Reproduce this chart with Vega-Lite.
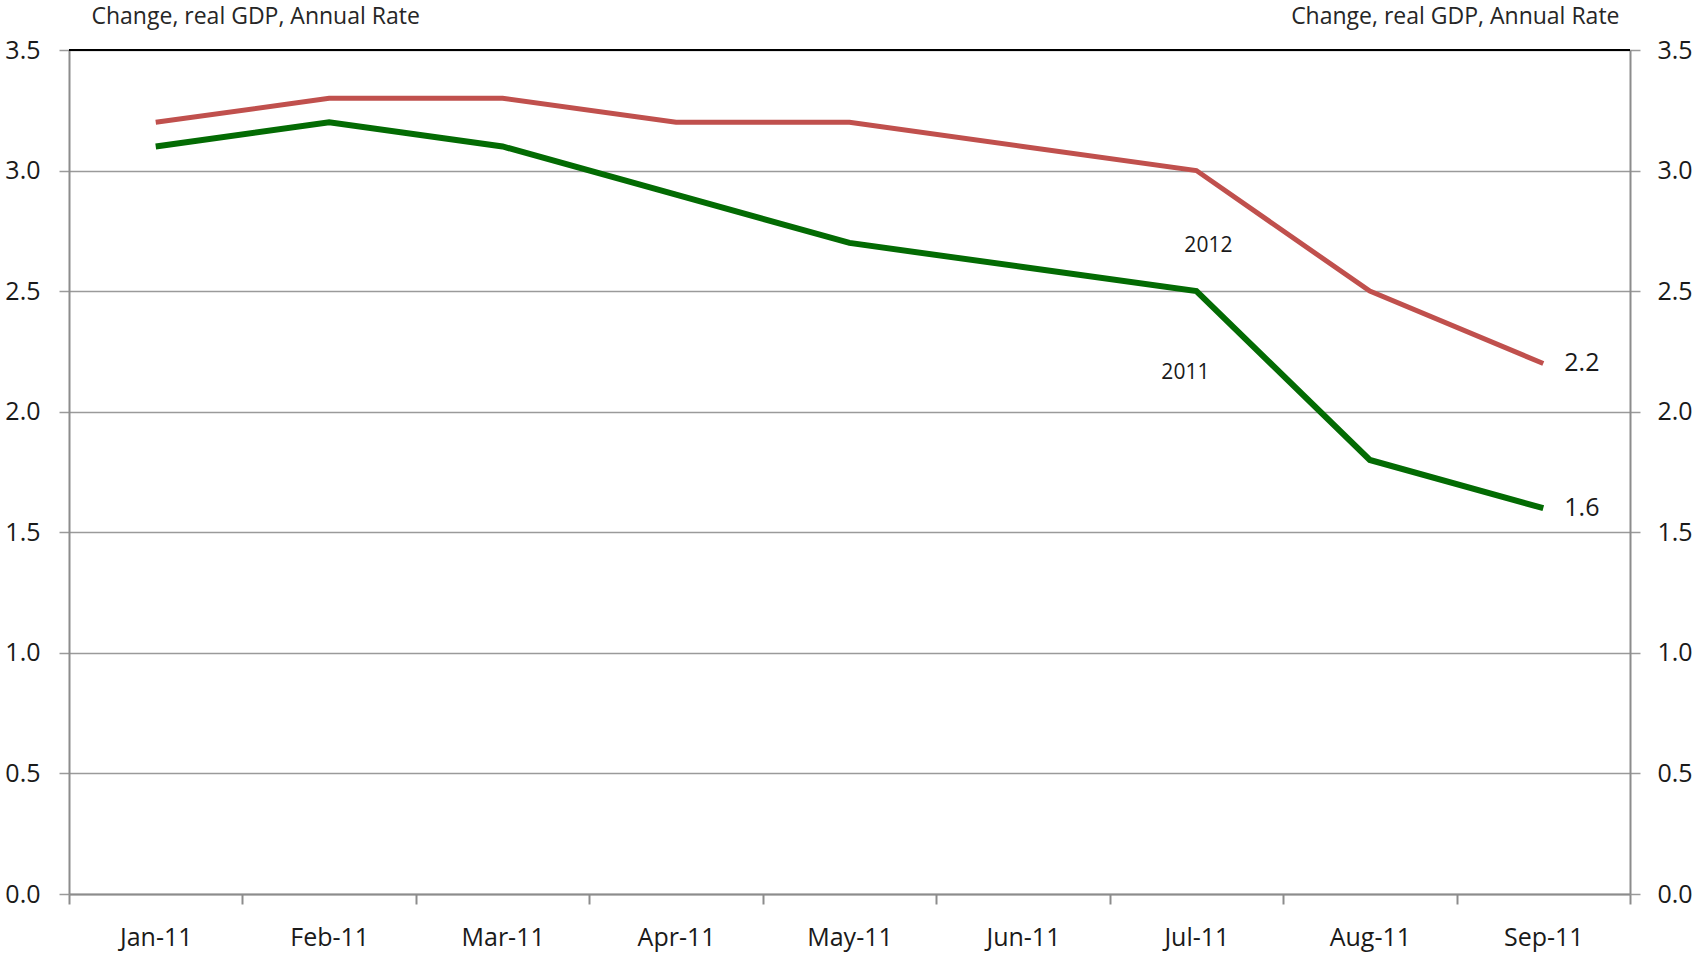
{
  "$schema": "https://vega.github.io/schema/vega-lite/v6.json",
  "width": 1561,
  "height": 844,
  "autosize": "none",
  "padding": {"left": 69, "top": 50, "right": 71, "bottom": 61},
  "background": "white",
  "config": {
    "view": {"stroke": null},
    "font": "Open Sans",
    "axisX": {
      "tickBand": "extent",
      "domainColor": "#8c8c8c",
      "domainWidth": 2,
      "tickColor": "#8c8c8c",
      "tickWidth": 2,
      "tickSize": 10,
      "labelFont": "Open Sans",
      "labelFontSize": 25,
      "labelColor": "#1a1a1a",
      "labelBaseline": "middle",
      "labelPadding": 33,
      "labelAngle": 0,
      "grid": false,
      "title": null
    }
  },
  "data": {
    "values": [
      {"month": "Jan-11", "series": "2012", "value": 3.2},
      {"month": "Feb-11", "series": "2012", "value": 3.3},
      {"month": "Mar-11", "series": "2012", "value": 3.3},
      {"month": "Apr-11", "series": "2012", "value": 3.2},
      {"month": "May-11", "series": "2012", "value": 3.2},
      {"month": "Jun-11", "series": "2012", "value": 3.1},
      {"month": "Jul-11", "series": "2012", "value": 3.0},
      {"month": "Aug-11", "series": "2012", "value": 2.5},
      {"month": "Sep-11", "series": "2012", "value": 2.2},
      {"month": "Jan-11", "series": "2011", "value": 3.1},
      {"month": "Feb-11", "series": "2011", "value": 3.2},
      {"month": "Mar-11", "series": "2011", "value": 3.1},
      {"month": "Apr-11", "series": "2011", "value": 2.9},
      {"month": "May-11", "series": "2011", "value": 2.7},
      {"month": "Jun-11", "series": "2011", "value": 2.6},
      {"month": "Jul-11", "series": "2011", "value": 2.5},
      {"month": "Aug-11", "series": "2011", "value": 1.8},
      {"month": "Sep-11", "series": "2011", "value": 1.6}
    ]
  },
  "layer": [
    {
      "mark": {"type": "rule", "color": "#000000", "strokeWidth": 2},
      "encoding": {
        "y": {"datum": 3.5, "type": "quantitative", "axis": null}
      }
    },
    {
      "mark": {"type": "line", "strokeJoin": "miter", "strokeCap": "butt", "color": "#C0504D", "strokeWidth": 5},
      "transform": [{"filter": "datum.series === '2012'"}],
      "encoding": {
        "x": {
          "field": "month",
          "type": "ordinal",
          "sort": null,
          "bandPosition": 0.5,
          "scale": {"type": "band", "paddingInner": 0, "paddingOuter": 0}
        },
        "y": {
          "field": "value",
          "type": "quantitative",
          "scale": {"domain": [0, 3.5], "nice": false, "zero": true},
          "axis": {
            "orient": "left",
            "values": [0, 0.5, 1, 1.5, 2, 2.5, 3, 3.5],
            "format": ".1f",
            "grid": true,
            "gridColor": "#9a9a9a",
            "gridWidth": 1.5,
            "domainColor": "#8c8c8c",
            "domainWidth": 2,
            "tickColor": "#9a9a9a",
            "tickWidth": 1.5,
            "tickSize": 10,
            "labelFont": "Open Sans",
            "labelFontSize": 25,
            "labelColor": "#1a1a1a",
            "labelPadding": 19,
            "title": "Change, real GDP, Annual Rate",
            "titleAngle": 0,
            "titleAlign": "left",
            "titleBaseline": "middle",
            "titleX": 22,
            "titleY": -34,
            "titleFont": "Open Sans",
            "titleFontSize": 23,
            "titleFontWeight": "normal",
            "titleColor": "#262626"
          }
        }
      }
    },
    {
      "mark": {"type": "line", "strokeJoin": "miter", "strokeCap": "butt", "color": "#036B03", "strokeWidth": 6},
      "transform": [{"filter": "datum.series === '2011'"}],
      "encoding": {
        "x": {"field": "month", "type": "ordinal", "sort": null, "bandPosition": 0.5},
        "y": {"field": "value", "type": "quantitative", "axis": null}
      }
    },
    {
      "mark": {"type": "text", "align": "left", "baseline": "middle", "dx": 21, "fontSize": 25, "font": "Open Sans", "color": "#1a1a1a"},
      "transform": [{"filter": "datum.month === 'Sep-11'"}],
      "encoding": {
        "x": {"field": "month", "type": "ordinal", "sort": null, "bandPosition": 0.5},
        "y": {
          "field": "value",
          "type": "quantitative",
          "axis": {
            "orient": "right",
            "values": [0, 0.5, 1, 1.5, 2, 2.5, 3, 3.5],
            "format": ".1f",
            "grid": false,
            "domainColor": "#8c8c8c",
            "domainWidth": 2,
            "tickColor": "#9a9a9a",
            "tickWidth": 1.5,
            "tickSize": 10,
            "labelFont": "Open Sans",
            "labelFontSize": 25,
            "labelColor": "#1a1a1a",
            "labelPadding": 17,
            "title": "Change, real GDP, Annual Rate",
            "titleAngle": 0,
            "titleAlign": "right",
            "titleBaseline": "middle",
            "titleX": -11,
            "titleY": -34,
            "titleFont": "Open Sans",
            "titleFontSize": 23,
            "titleFontWeight": "normal",
            "titleColor": "#262626"
          }
        },
        "text": {"field": "value", "type": "quantitative", "format": ".1f"}
      }
    },
    {
      "mark": {"type": "text", "align": "center", "baseline": "middle", "dx": 12, "dy": 75, "fontSize": 21, "font": "Open Sans", "color": "#1a1a1a"},
      "transform": [{"filter": "datum.month === 'Jul-11' && datum.series === '2012'"}],
      "encoding": {
        "x": {"field": "month", "type": "ordinal", "sort": null, "bandPosition": 0.5},
        "y": {"field": "value", "type": "quantitative", "axis": null},
        "text": {"field": "series"}
      }
    },
    {
      "mark": {"type": "text", "align": "center", "baseline": "middle", "dx": -11, "dy": 82, "fontSize": 21, "font": "Open Sans", "color": "#1a1a1a"},
      "transform": [{"filter": "datum.month === 'Jul-11' && datum.series === '2011'"}],
      "encoding": {
        "x": {"field": "month", "type": "ordinal", "sort": null, "bandPosition": 0.5},
        "y": {"field": "value", "type": "quantitative", "axis": null},
        "text": {"field": "series"}
      }
    }
  ],
  "resolve": {"axis": {"y": "independent"}}
}
